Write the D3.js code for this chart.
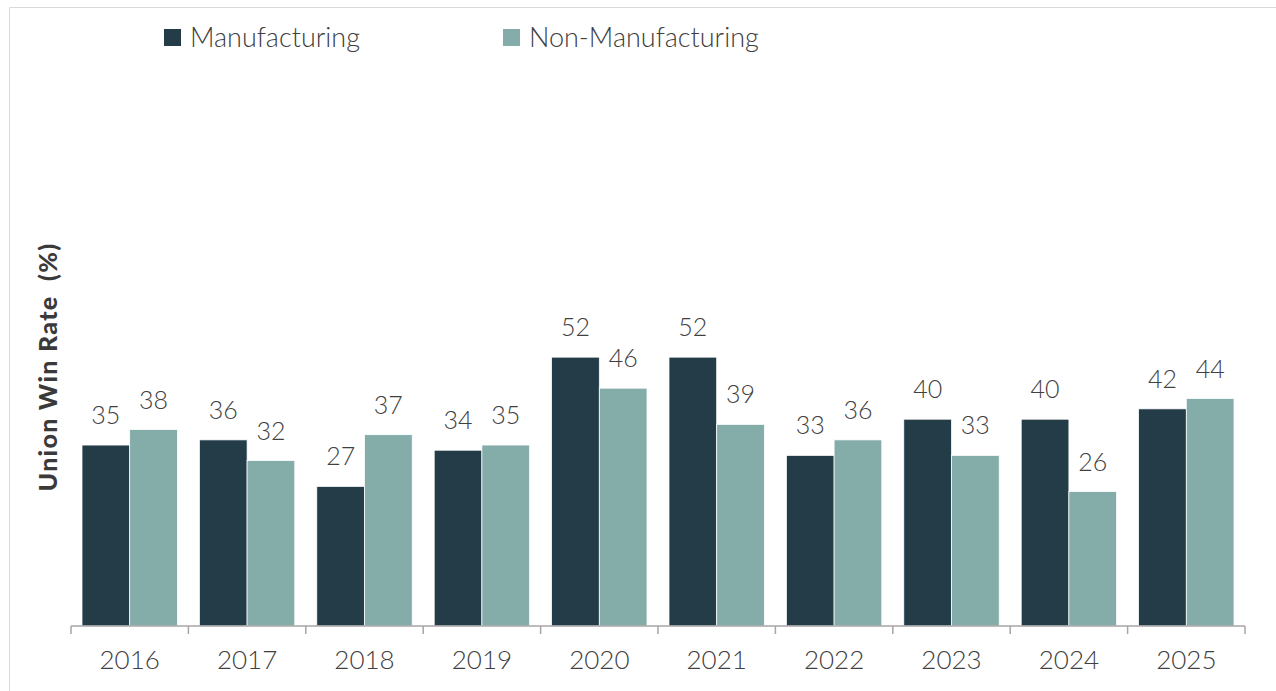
<!DOCTYPE html>
<html>
<head>
<meta charset="utf-8">
<script src="https://cdn.jsdelivr.net/npm/d3@7"></script>
<style>
  body { margin: 0; background: #fff; }
  svg { display: block; font-family: Lato, "Open Sans", sans-serif; }
</style>
</head>
<body>
<script>
const years = ["2016", "2017", "2018", "2019", "2020", "2021", "2022", "2023", "2024", "2025"];
const manufacturing = [35, 36, 27, 34, 52, 52, 33, 40, 40, 42];
const nonManufacturing = [38, 32, 37, 35, 46, 39, 36, 33, 26, 44];
const seriesNames = ["Manufacturing", "Non-Manufacturing"];

const baseWidth = 1276,
  baseHeight = 691,
  colors = ["#243c48", "#84aca8"],
  textColor = "#404040";

const data = years.map((yr, i) => ({
  Name: yr,
  Manufacturing: manufacturing[i],
  "Non-Manufacturing": nonManufacturing[i],
}));

const x0 = d3.scaleBand().domain(years).range([71, 1245]).paddingInner(0).paddingOuter(0);
const x1 = d3.scaleBand().domain(seriesNames).range([11, x0.bandwidth() - 11]);
const y = d3.scaleLinear().domain([0, 100]).range([626, 109]);
const color = d3.scaleOrdinal().domain(seriesNames).range(colors);

const svg = d3
  .select("body")
  .append("svg")
  .attr("width", baseWidth)
  .attr("height", baseHeight);

// frame lines (top and left edges of the chart box)
svg.append("line").attr("x1", 9.5).attr("x2", baseWidth).attr("y1", 7.5).attr("y2", 7.5)
  .attr("stroke", "#d9d9d9");
svg.append("line").attr("x1", 9.5).attr("x2", 9.5).attr("y1", 7.5).attr("y2", baseHeight)
  .attr("stroke", "#d9d9d9");

// Create bars
const groups = svg
  .selectAll(".year")
  .data(data)
  .enter()
  .append("g")
  .attr("class", "year")
  .attr("transform", (d) => "translate(" + x0(d.Name) + ",0)");

groups
  .selectAll("rect")
  .data((d) => seriesNames.map((k) => ({ key: k, value: d[k] })))
  .enter()
  .append("rect")
  .attr("x", (d) => x1(d.key))
  .attr("width", x1.bandwidth())
  .attr("y", (d) => y(d.value))
  .attr("height", (d) => y(0) - y(d.value))
  .attr("fill", (d) => color(d.key))
  .attr("stroke", "#fff")
  .attr("stroke-width", 0.75);

// value labels above bars
groups
  .selectAll("text")
  .data((d) => seriesNames.map((k) => ({ key: k, value: d[k] })))
  .enter()
  .append("text")
  .attr("x", (d) => x1(d.key) + x1.bandwidth() / 2)
  .attr("y", (d) => y(d.value) - 21)
  .attr("text-anchor", "middle")
  .attr("fill", textColor)
  .style("font-size", "25px")
  .style("font-weight", 300)
  .text((d) => d.value);

// x axis
const xAxis = d3.axisBottom(x0).tickSize(0).tickPadding(0);
const axisG = svg.append("g").attr("transform", "translate(0,626)").call(xAxis);
axisG.select(".domain").attr("stroke", "#a6a6a6").attr("stroke-width", 1.5).attr("d", "M71,0H1245");
axisG.selectAll(".tick text")
  .attr("fill", textColor)
  .attr("y", 43)
  .attr("dy", 0)
  .style("font-size", "26px")
  .style("font-weight", 300)
  .style("font-family", "Lato, 'Open Sans', sans-serif");

// boundary tick marks between categories
const bounds = years.map((d) => x0(d)).concat([x0.range()[1]]);
axisG.selectAll(".bound")
  .data(bounds)
  .enter()
  .append("line")
  .attr("class", "bound")
  .attr("x1", (d) => d)
  .attr("x2", (d) => d)
  .attr("y1", 0)
  .attr("y2", 8)
  .attr("stroke", "#a6a6a6")
  .attr("stroke-width", 1.5);

// y axis title
svg.append("text")
  .attr("transform", "translate(57,367) rotate(-90)")
  .attr("text-anchor", "middle")
  .attr("fill", "#3a3a3a")
  .style("font-size", "25px")
  .style("font-weight", 900)
  .style("letter-spacing", "1.3px")
  .style("white-space", "pre")
  .attr("xml:space", "preserve")
  .text("Union Win Rate  (%)");

// Add legend
const legendX = [164, 503];
const legend = svg
  .selectAll(".legend")
  .data(seriesNames)
  .enter()
  .append("g")
  .attr("class", "legend")
  .attr("transform", (d, i) => "translate(" + legendX[i] + ",29)");

legend.append("rect").attr("width", 17).attr("height", 17).attr("fill", color);

legend
  .append("text")
  .attr("x", 26)
  .attr("y", 9)
  .attr("dy", ".35em")
  .attr("fill", textColor)
  .style("font-size", "27px")
  .style("font-weight", 300)
  .text((d) => d);
</script>
</body>
</html>
